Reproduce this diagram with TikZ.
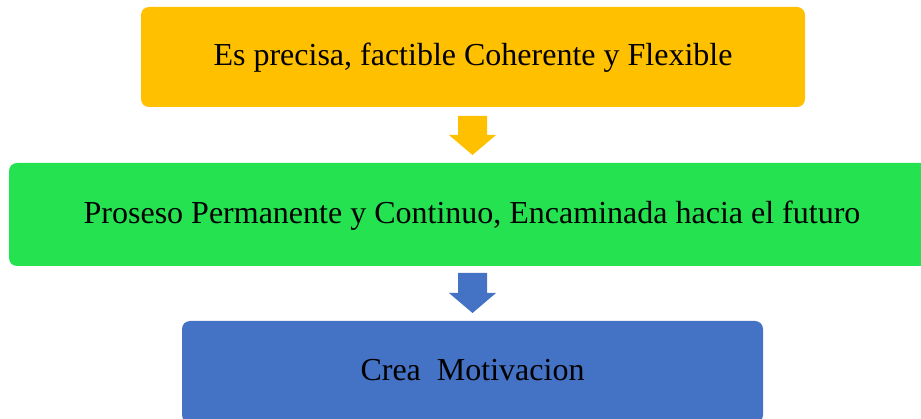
\documentclass[tikz,border=0pt]{standalone}
\usepackage{fontspec}
\setmainfont{Liberation Serif}
\definecolor{cyellow}{RGB}{255,192,0}
\definecolor{cgreen}{RGB}{37,226,80}
\definecolor{cblue}{RGB}{68,114,196}
\begin{document}
\begin{tikzpicture}[x=1pt,y=-1pt,
  box/.style={rounded corners=8pt, inner sep=0pt, text height=22pt, text depth=4pt, font=\fontsize{32}{36}\selectfont, text=black}]
\useasboundingbox (0,0) rectangle (921,419);
\clip (0,0) rectangle (921,419);
\node[box, fill=cyellow, minimum width=664pt, minimum height=100pt] (a) at (473,57) {Es precisa, factible Coherente y Flexible};
\node[box, fill=cgreen, minimum width=926pt, minimum height=103pt] (b) at (472,214.5) {Proseso Permanente y Continuo, Encaminada hacia el futuro};
\node[box, fill=cblue, minimum width=581pt, minimum height=102pt] (c) at (472.5,372) {Crea\ \ Motivacion};
% block arrows
\fill[cyellow] (458,116) -- (487,116) -- (487,135) -- (496,135) -- (472.5,155) -- (449,135) -- (458,135) -- cycle;
\fill[cblue] (458,273) -- (487,273) -- (487,293) -- (496,293) -- (472.5,313) -- (449,293) -- (458,293) -- cycle;
\end{tikzpicture}
\end{document}
